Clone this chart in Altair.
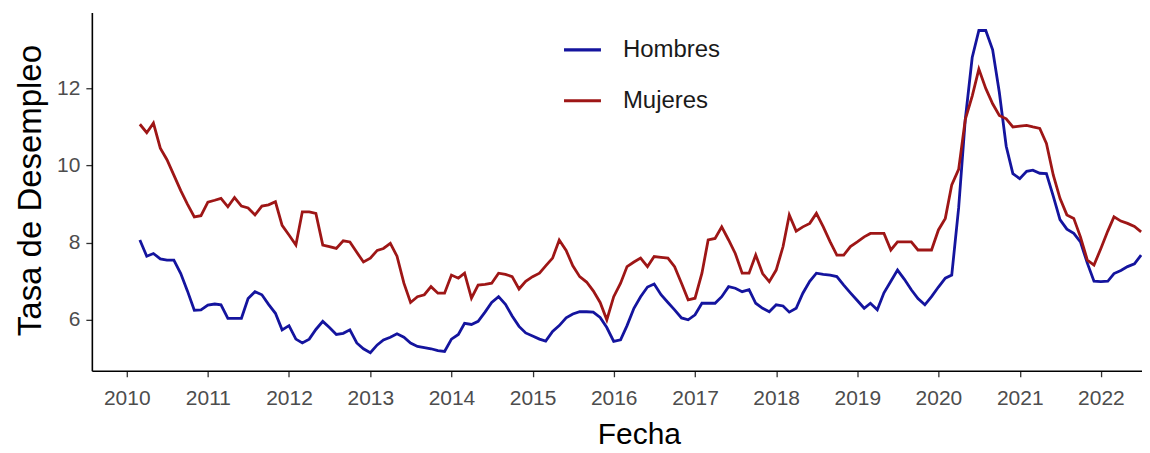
import altair as alt
import pandas as pd

# Tasa de desempleo mensual (trimestre móvil), marzo 2010 – julio 2022
inicio = "2010-03-01"

hombres = [
    8.07, 7.65, 7.72, 7.58, 7.55, 7.55, 7.20, 6.75, 6.25, 6.26,   # 2010 mar-dic
    6.38, 6.41, 6.39, 6.04, 6.04, 6.04, 6.55, 6.73, 6.65, 6.40, 6.17, 5.74,  # 2011
    5.85, 5.50, 5.40, 5.50, 5.75, 5.96, 5.80, 5.62, 5.65, 5.74, 5.40, 5.25,  # 2012
    5.15, 5.35, 5.48, 5.55, 5.64, 5.55, 5.40, 5.31, 5.28, 5.25, 5.20, 5.18,  # 2013
    5.50, 5.62, 5.91, 5.88, 5.96, 6.20, 6.45, 6.60, 6.40, 6.10, 5.83, 5.66,  # 2014
    5.58, 5.50, 5.45, 5.70, 5.85, 6.05, 6.15, 6.21, 6.21, 6.20, 6.06, 5.80,  # 2015
    5.44, 5.48, 5.85, 6.30, 6.60, 6.85, 6.93, 6.65, 6.45, 6.26, 6.05, 6.00,  # 2016
    6.13, 6.43, 6.43, 6.43, 6.60, 6.86, 6.82, 6.73, 6.78, 6.43, 6.30, 6.21,  # 2017
    6.39, 6.36, 6.20, 6.30, 6.69, 7.00, 7.21, 7.18, 7.16, 7.12, 6.90, 6.70,  # 2018
    6.50, 6.30, 6.43, 6.26, 6.70, 7.00, 7.29, 7.05, 6.78, 6.55, 6.39, 6.60,  # 2019
    6.85, 7.08, 7.16, 8.90, 11.20, 12.80, 13.50, 13.50, 13.00, 11.90, 10.50, 9.79,  # 2020
    9.66, 9.85, 9.88, 9.80, 9.79, 9.20, 8.60, 8.35, 8.24, 8.02, 7.47, 7.00,  # 2021
    6.99, 7.00, 7.20, 7.28, 7.38, 7.45, 7.68,  # 2022 ene-jul
]

mujeres = [
    11.07, 10.85, 11.10, 10.45, 10.15, 9.75, 9.35, 9.00, 8.67, 8.70,  # 2010 mar-dic
    9.05, 9.10, 9.15, 8.93, 9.17, 8.95, 8.90, 8.72, 8.95, 8.98, 9.06, 8.45,  # 2011
    8.20, 7.94, 8.80, 8.80, 8.76, 7.94, 7.90, 7.85, 8.05, 8.02, 7.75, 7.50,  # 2012
    7.60, 7.80, 7.85, 7.98, 7.65, 6.95, 6.45, 6.60, 6.65, 6.86, 6.69, 6.69,  # 2013
    7.16, 7.08, 7.21, 6.56, 6.90, 6.92, 6.95, 7.21, 7.18, 7.12, 6.80, 7.00,  # 2014
    7.12, 7.21, 7.40, 7.60, 8.07, 7.80, 7.40, 7.12, 6.98, 6.75, 6.45, 6.00,  # 2015
    6.60, 6.95, 7.38, 7.50, 7.60, 7.38, 7.64, 7.62, 7.60, 7.38, 6.95, 6.52,  # 2016
    6.56, 7.21, 8.07, 8.11, 8.41, 8.07, 7.72, 7.21, 7.21, 7.68, 7.20, 6.99,  # 2017
    7.29, 7.90, 8.72, 8.30, 8.41, 8.50, 8.76, 8.41, 8.02, 7.68, 7.68, 7.90,  # 2018
    8.02, 8.15, 8.24, 8.24, 8.24, 7.81, 8.02, 8.02, 8.02, 7.81, 7.81, 7.81,  # 2019
    8.33, 8.63, 9.50, 9.90, 11.20, 11.80, 12.50, 12.00, 11.60, 11.30, 11.21, 11.00,  # 2020
    11.02, 11.04, 11.00, 10.96, 10.57, 9.75, 9.15, 8.72, 8.63, 8.15, 7.55, 7.42,  # 2021
    7.85, 8.30, 8.67, 8.56, 8.50, 8.42, 8.28,  # 2022 ene-jul
]

series = ["Hombres", "Mujeres"]
colores = ["#14149e", "#9e1616"]

fechas = pd.date_range(inicio, periods=len(hombres), freq="MS")
df = pd.DataFrame({
    "Fecha": list(fechas) * 2,
    "Tasa": hombres + mujeres,
    "Sexo": [series[0]] * len(hombres) + [series[1]] * len(mujeres),
})

fuente = "Liberation Sans"

chart = (
    alt.Chart(df)
    .mark_line(strokeWidth=2.8, clip=True)
    .encode(
        x=alt.X(
            "Fecha:T",
            scale=alt.Scale(domain=[
                alt.DateTime(year=2009, month=7, date=28),
                alt.DateTime(year=2022, month=7, date=5),
            ]),
            axis=alt.Axis(
                format="%Y",
                tickCount={"interval": "year", "step": 1},
                title="Fecha",
                grid=False,
                labelFont=fuente, labelFontSize=21, labelColor="#4d4d4d",
                labelPadding=11, labelFlush=False, labelOverlap=False,
                tickSize=6, tickColor="#333333", tickWidth=1.3,
                domainColor="#000000", domainWidth=1.6,
                titleFont=fuente, titleFontSize=30, titleFontWeight="normal",
                titleColor="#000000", titleX=548, titleY=64,
                titleBaseline="middle", titleAlign="center",
            ),
        ),
        y=alt.Y(
            "Tasa:Q",
            scale=alt.Scale(domain=[4.68, 13.97], nice=False, zero=False),
            axis=alt.Axis(
                values=[6, 8, 10, 12],
                title="Tasa de Desempleo",
                grid=False,
                labelFont=fuente, labelFontSize=21, labelColor="#4d4d4d",
                labelPadding=6,
                tickSize=6, tickColor="#333333", tickWidth=1.3,
                domainColor="#000000", domainWidth=1.6,
                titleFont=fuente, titleFontSize=33, titleFontWeight="normal",
                titleColor="#000000", titleX=-61, titleY=178,
                titleBaseline="middle", titleAlign="center", titleAngle=270,
            ),
        ),
        color=alt.Color(
            "Sexo:N",
            scale=alt.Scale(domain=series, range=colores),
            legend=alt.Legend(
                title=None, orient="none", legendX=471, legendY=17,
                direction="vertical", padding=0,
                symbolType="stroke", symbolSize=1369, symbolStrokeWidth=3.2,
                labelFont=fuente, labelFontSize=24, labelColor="#1a1a1a",
                labelOffset=20, rowPadding=18,
            ),
        ),
    )
    .properties(
        width=1052, height=359,
        padding={"left": 84, "top": 4, "right": 0, "bottom": 82},
        autosize="none",
    )
    .configure_view(stroke="transparent")
)

chart.save("out.html", embed_options={"renderer": "svg", "actions": False})
